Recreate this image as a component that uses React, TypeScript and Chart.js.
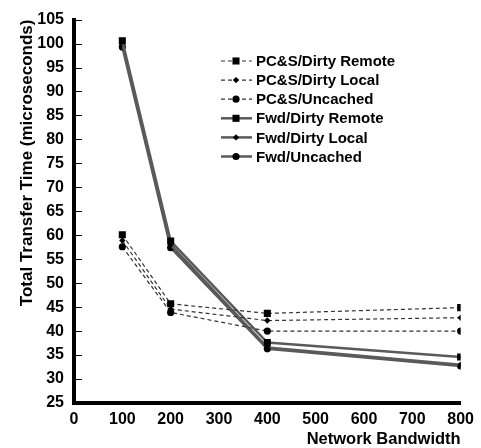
import React, { useEffect, useRef } from "react";
import { Chart, registerables } from "chart.js";

Chart.register(...registerables);

const bandwidth = [100, 200, 400, 800];
const seriesNames = [
  "PC&S/Dirty Remote",
  "PC&S/Dirty Local",
  "PC&S/Uncached",
  "Fwd/Dirty Remote",
  "Fwd/Dirty Local",
  "Fwd/Uncached",
];
const pcsDirtyRemote = [60.1, 45.7, 43.7, 44.9];
const pcsDirtyLocal = [58.9, 44.6, 42.2, 42.8];
const pcsUncached = [57.6, 43.9, 40.0, 40.0];
const fwdDirtyRemote = [100.6, 58.8, 37.6, 34.6];
const fwdDirtyLocal = [99.9, 58.0, 36.6, 33.0];
const fwdUncached = [99.3, 57.4, 36.3, 32.7];
const yTicksMin = 25;
const yTicksMax = 105;
const yStep = 5;
const xTicksMin = 0;
const xTicksMax = 800;
const xStep = 100;

const FONT = "'Liberation Sans', Arial, sans-serif";

const seriesValues = [pcsDirtyRemote, pcsDirtyLocal, pcsUncached, fwdDirtyRemote, fwdDirtyLocal, fwdUncached];
const markerStyles = ["rect", "rectRot", "circle", "rect", "rectRot", "circle"];
const markerRadius = [5, 3.2, 3.6, 5, 3.2, 3.6];

function drawMarker(ctx: CanvasRenderingContext2D, style: string, x: number, y: number, r: number) {
  ctx.beginPath();
  if (style === "rect") {
    const s = Math.SQRT1_2 * r;
    ctx.rect(x - s, y - s, 2 * s, 2 * s);
  } else if (style === "rectRot") {
    ctx.moveTo(x, y - r);
    ctx.lineTo(x + r, y);
    ctx.lineTo(x, y + r);
    ctx.lineTo(x - r, y);
    ctx.closePath();
  } else {
    ctx.arc(x, y, r, 0, Math.PI * 2);
  }
  ctx.fillStyle = "#000";
  ctx.fill();
}

const innerTicksPlugin = {
  id: "innerTicks",
  afterDatasetsDraw(chart: any) {
    const ctx = chart.ctx;
    const y = chart.scales.y;
    const area = chart.chartArea;
    ctx.save();
    ctx.strokeStyle = "#000";
    ctx.lineWidth = 1;
    y.ticks.forEach((t: any) => {
      const py = Math.round(y.getPixelForValue(t.value)) + 0.5;
      ctx.beginPath();
      ctx.moveTo(area.left, py);
      ctx.lineTo(area.left + 8, py);
      ctx.stroke();
    });
    ctx.restore();
  },
};

const legendPlugin = {
  id: "customLegend",
  afterDraw(chart: any) {
    const ctx = chart.ctx;
    const x0 = 221;
    const x1 = 252;
    const mx = 236;
    const tx = 256;
    const y0 = 61;
    const dy = 19.1;
    ctx.save();
    chart.data.datasets.forEach((ds: any, i: number) => {
      const y = y0 + i * dy;
      ctx.beginPath();
      ctx.strokeStyle = ds.borderColor;
      ctx.lineWidth = ds.borderWidth;
      ctx.setLineDash(ds.borderDash || []);
      ctx.moveTo(x0, y);
      ctx.lineTo(x1, y);
      ctx.stroke();
      ctx.setLineDash([]);
      drawMarker(ctx, markerStyles[i], mx, y, markerRadius[i]);
      ctx.fillStyle = "#000";
      ctx.font = `bold 15px ${FONT}`;
      ctx.textBaseline = "middle";
      ctx.textAlign = "left";
      ctx.fillText(ds.label, tx, y + 1);
    });
    ctx.restore();
  },
};

export default function App() {
  const canvasRef = useRef<HTMLCanvasElement | null>(null);

  useEffect(() => {
    if (!canvasRef.current) return;
    const datasets = seriesNames.map((name, i) => {
      const dashed = i < 3;
      return {
        label: name,
        data: bandwidth.map((b, j) => ({ x: b, y: seriesValues[i][j] })),
        borderColor: dashed ? "#333" : "#5a5a5a",
        borderWidth: dashed ? 1.2 : 2.5,
        borderDash: dashed ? [4, 3] : [],
        pointStyle: markerStyles[i],
        pointRadius: markerRadius[i],
        pointBackgroundColor: "#000",
        pointBorderColor: "#000",
        pointBorderWidth: 0,
        fill: false,
        tension: 0,
      };
    });
    const chart = new Chart(canvasRef.current, {
      type: "line",
      data: { datasets },
      options: {
        animation: false,
        responsive: false,
        devicePixelRatio: 1,
        layout: { padding: { top: 13, right: 11, left: 0, bottom: 0 } },
        plugins: {
          legend: { display: false },
          tooltip: { enabled: false },
        },
        scales: {
          x: {
            type: "linear",
            min: xTicksMin,
            max: xTicksMax,
            ticks: {
              stepSize: xStep,
              color: "#000",
              padding: 7,
              font: { family: FONT, size: 16, weight: "bold" },
              maxRotation: 0,
            },
            grid: { display: false, drawTicks: false },
            border: { display: true, color: "#000", width: 4 },
            title: {
              display: true,
              text: "Network Bandwidth",
              align: "end",
              color: "#000",
              font: { family: FONT, size: 16.5, weight: "bold", lineHeight: 1 },
              padding: { top: 0, bottom: 0 },
            },
            afterFit: (s: any) => {
              s.height = 45;
            },
          },
          y: {
            type: "linear",
            min: yTicksMin,
            max: yTicksMax,
            ticks: {
              stepSize: yStep,
              color: "#000",
              padding: 10,
              font: { family: FONT, size: 16, weight: "bold" },
            },
            grid: { display: false, drawTicks: false },
            border: { display: true, color: "#000", width: 4 },
            title: {
              display: true,
              text: "Total Transfer Time (microseconds)",
              align: "end",
              color: "#000",
              font: { family: FONT, size: 17, weight: "bold", lineHeight: 1 },
              padding: { top: 19, bottom: 0 },
            },
            afterFit: (s: any) => {
              s.width = 74;
            },
          },
        },
      },
      plugins: [innerTicksPlugin, legendPlugin],
    } as any);
    return () => chart.destroy();
  }, []);

  return (
    <div style={{ position: "absolute", left: 0, top: 0, width: 481, height: 448, background: "#fff" }}>
      <canvas ref={canvasRef} width={481} height={448} style={{ display: "block" }} />
    </div>
  );
}
